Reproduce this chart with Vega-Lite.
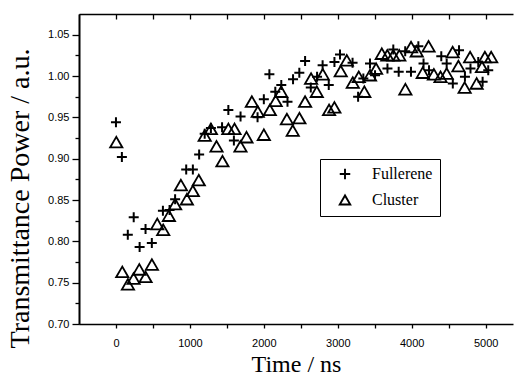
{
  "$schema": "https://vega.github.io/schema/vega-lite/v6.json",
  "width": 434,
  "height": 310,
  "autosize": {"type": "none"},
  "padding": {"left": 79, "top": 14, "right": 1, "bottom": 57},
  "background": "white",
  "config": {
    "view": {"stroke": null},
    "axis": {"grid": false, "domainColor": "black", "domainWidth": 1.6, "tickColor": "black", "tickWidth": 1.3, "labelColor": "black", "titleColor": "black", "labelFont": "Liberation Sans", "labelFontSize": 11, "titleFont": "Liberation Serif", "titleFontWeight": "normal"},
    "legend": {"orient": "none", "legendX": 241, "legendY": 145, "strokeColor": "black", "fillColor": "white", "padding": 7, "symbolOffset": 10, "labelFont": "Liberation Serif", "labelFontSize": 16, "labelColor": "black", "labelOffset": 19, "rowPadding": 7, "symbolSize": 110, "symbolStrokeWidth": 1.9, "symbolStrokeColor": "black", "symbolFillColor": "transparent"}
  },
  "data": {"values": [
    {"t": 0, "v": 0.944, "s": "Fullerene"},
    {"t": 80, "v": 0.902, "s": "Fullerene"},
    {"t": 160, "v": 0.808, "s": "Fullerene"},
    {"t": 240, "v": 0.829, "s": "Fullerene"},
    {"t": 320, "v": 0.793, "s": "Fullerene"},
    {"t": 400, "v": 0.815, "s": "Fullerene"},
    {"t": 485, "v": 0.798, "s": "Fullerene"},
    {"t": 635, "v": 0.837, "s": "Fullerene"},
    {"t": 725, "v": 0.838, "s": "Fullerene"},
    {"t": 800, "v": 0.851, "s": "Fullerene"},
    {"t": 950, "v": 0.887, "s": "Fullerene"},
    {"t": 1040, "v": 0.887, "s": "Fullerene"},
    {"t": 1125, "v": 0.905, "s": "Fullerene"},
    {"t": 1200, "v": 0.930, "s": "Fullerene"},
    {"t": 1284, "v": 0.937, "s": "Fullerene"},
    {"t": 1435, "v": 0.938, "s": "Fullerene"},
    {"t": 1520, "v": 0.959, "s": "Fullerene"},
    {"t": 1595, "v": 0.922, "s": "Fullerene"},
    {"t": 1685, "v": 0.951, "s": "Fullerene"},
    {"t": 1915, "v": 0.950, "s": "Fullerene"},
    {"t": 2000, "v": 0.972, "s": "Fullerene"},
    {"t": 2075, "v": 1.002, "s": "Fullerene"},
    {"t": 2155, "v": 0.981, "s": "Fullerene"},
    {"t": 2236, "v": 0.989, "s": "Fullerene"},
    {"t": 2320, "v": 0.969, "s": "Fullerene"},
    {"t": 2395, "v": 0.996, "s": "Fullerene"},
    {"t": 2480, "v": 1.004, "s": "Fullerene"},
    {"t": 2558, "v": 1.018, "s": "Fullerene"},
    {"t": 2635, "v": 0.986, "s": "Fullerene"},
    {"t": 2720, "v": 0.999, "s": "Fullerene"},
    {"t": 2795, "v": 1.013, "s": "Fullerene"},
    {"t": 2878, "v": 0.989, "s": "Fullerene"},
    {"t": 2955, "v": 1.017, "s": "Fullerene"},
    {"t": 3030, "v": 1.026, "s": "Fullerene"},
    {"t": 3200, "v": 1.016, "s": "Fullerene"},
    {"t": 3275, "v": 0.975, "s": "Fullerene"},
    {"t": 3346, "v": 0.997, "s": "Fullerene"},
    {"t": 3436, "v": 1.015, "s": "Fullerene"},
    {"t": 3504, "v": 1.001, "s": "Fullerene"},
    {"t": 3672, "v": 1.009, "s": "Fullerene"},
    {"t": 3751, "v": 1.032, "s": "Fullerene"},
    {"t": 3824, "v": 1.005, "s": "Fullerene"},
    {"t": 3912, "v": 1.030, "s": "Fullerene"},
    {"t": 3990, "v": 1.005, "s": "Fullerene"},
    {"t": 4090, "v": 1.036, "s": "Fullerene"},
    {"t": 4160, "v": 1.015, "s": "Fullerene"},
    {"t": 4234, "v": 1.007, "s": "Fullerene"},
    {"t": 4400, "v": 1.024, "s": "Fullerene"},
    {"t": 4473, "v": 1.015, "s": "Fullerene"},
    {"t": 4556, "v": 0.991, "s": "Fullerene"},
    {"t": 4640, "v": 1.031, "s": "Fullerene"},
    {"t": 4720, "v": 0.999, "s": "Fullerene"},
    {"t": 4795, "v": 1.009, "s": "Fullerene"},
    {"t": 4900, "v": 1.017, "s": "Fullerene"},
    {"t": 4959, "v": 0.993, "s": "Fullerene"},
    {"t": 5035, "v": 1.007, "s": "Fullerene"},
    {"t": 4, "v": 0.920, "s": "Cluster"},
    {"t": 85, "v": 0.763, "s": "Cluster"},
    {"t": 162, "v": 0.748, "s": "Cluster"},
    {"t": 238, "v": 0.755, "s": "Cluster"},
    {"t": 315, "v": 0.766, "s": "Cluster"},
    {"t": 400, "v": 0.757, "s": "Cluster"},
    {"t": 486, "v": 0.772, "s": "Cluster"},
    {"t": 558, "v": 0.821, "s": "Cluster"},
    {"t": 639, "v": 0.814, "s": "Cluster"},
    {"t": 716, "v": 0.831, "s": "Cluster"},
    {"t": 800, "v": 0.845, "s": "Cluster"},
    {"t": 878, "v": 0.868, "s": "Cluster"},
    {"t": 959, "v": 0.851, "s": "Cluster"},
    {"t": 1040, "v": 0.861, "s": "Cluster"},
    {"t": 1120, "v": 0.874, "s": "Cluster"},
    {"t": 1200, "v": 0.928, "s": "Cluster"},
    {"t": 1284, "v": 0.936, "s": "Cluster"},
    {"t": 1360, "v": 0.915, "s": "Cluster"},
    {"t": 1440, "v": 0.897, "s": "Cluster"},
    {"t": 1520, "v": 0.936, "s": "Cluster"},
    {"t": 1603, "v": 0.936, "s": "Cluster"},
    {"t": 1684, "v": 0.915, "s": "Cluster"},
    {"t": 1765, "v": 0.926, "s": "Cluster"},
    {"t": 1838, "v": 0.969, "s": "Cluster"},
    {"t": 1918, "v": 0.957, "s": "Cluster"},
    {"t": 2000, "v": 0.929, "s": "Cluster"},
    {"t": 2081, "v": 0.959, "s": "Cluster"},
    {"t": 2160, "v": 0.970, "s": "Cluster"},
    {"t": 2234, "v": 0.981, "s": "Cluster"},
    {"t": 2312, "v": 0.948, "s": "Cluster"},
    {"t": 2391, "v": 0.934, "s": "Cluster"},
    {"t": 2481, "v": 0.949, "s": "Cluster"},
    {"t": 2558, "v": 0.969, "s": "Cluster"},
    {"t": 2639, "v": 0.997, "s": "Cluster"},
    {"t": 2716, "v": 0.981, "s": "Cluster"},
    {"t": 2797, "v": 1.002, "s": "Cluster"},
    {"t": 2882, "v": 0.959, "s": "Cluster"},
    {"t": 2954, "v": 0.962, "s": "Cluster"},
    {"t": 3040, "v": 1.006, "s": "Cluster"},
    {"t": 3122, "v": 1.019, "s": "Cluster"},
    {"t": 3203, "v": 0.992, "s": "Cluster"},
    {"t": 3284, "v": 0.999, "s": "Cluster"},
    {"t": 3359, "v": 0.981, "s": "Cluster"},
    {"t": 3436, "v": 1.001, "s": "Cluster"},
    {"t": 3518, "v": 1.009, "s": "Cluster"},
    {"t": 3595, "v": 1.027, "s": "Cluster"},
    {"t": 3670, "v": 1.025, "s": "Cluster"},
    {"t": 3751, "v": 1.025, "s": "Cluster"},
    {"t": 3832, "v": 1.025, "s": "Cluster"},
    {"t": 3914, "v": 0.984, "s": "Cluster"},
    {"t": 3991, "v": 1.035, "s": "Cluster"},
    {"t": 4068, "v": 1.030, "s": "Cluster"},
    {"t": 4149, "v": 1.004, "s": "Cluster"},
    {"t": 4228, "v": 1.036, "s": "Cluster"},
    {"t": 4300, "v": 1.002, "s": "Cluster"},
    {"t": 4390, "v": 0.999, "s": "Cluster"},
    {"t": 4473, "v": 1.003, "s": "Cluster"},
    {"t": 4554, "v": 1.029, "s": "Cluster"},
    {"t": 4632, "v": 1.012, "s": "Cluster"},
    {"t": 4716, "v": 0.986, "s": "Cluster"},
    {"t": 4790, "v": 1.023, "s": "Cluster"},
    {"t": 4878, "v": 0.991, "s": "Cluster"},
    {"t": 4950, "v": 1.011, "s": "Cluster"},
    {"t": 4990, "v": 1.023, "s": "Cluster"},
    {"t": 5075, "v": 1.023, "s": "Cluster"}
  ]},
  "layer": [
    {
      "transform": [{"filter": "datum.s === 'Fullerene'"}],
      "mark": {"type": "point", "filled": false, "color": "black", "opacity": 1, "strokeWidth": 2, "size": 100},
      "encoding": {
        "x": {"field": "t", "type": "quantitative", "scale": {"domain": [-500, 5370], "nice": false, "zero": false},
          "axis": {"orient": "bottom", "values": [0, 500, 1000, 1500, 2000, 2500, 3000, 3500, 4000, 4500, 5000], "format": "d", "labelExpr": "datum.value % 1000 === 0 ? datum.label : ''", "tickSize": 4, "labelPadding": 9, "title": "Time / ns", "titleFontSize": 24, "titleY": 47, "titleBaseline": "alphabetic"}},
        "y": {"field": "v", "type": "quantitative", "scale": {"domain": [0.70, 1.075], "nice": false, "zero": false},
          "axis": {"orient": "left", "values": [0.70, 0.75, 0.80, 0.85, 0.90, 0.95, 1.00, 1.05], "format": ".2f", "tickSize": 7, "labelPadding": 3, "title": "Transmittance Power / a.u.", "titleFontSize": 28, "titleX": -51, "titleY": 184, "titleAlign": "center", "titleBaseline": "alphabetic"}},
        "shape": {"field": "s", "type": "nominal", "title": null, "scale": {"domain": ["Fullerene", "Cluster"], "range": ["M-1,0H1M0,-1V1", "triangle-up"]}}
      }
    },
    {
      "transform": [{"filter": "datum.s === 'Cluster'"}],
      "mark": {"type": "point", "filled": false, "color": "black", "opacity": 1, "strokeWidth": 1.8, "size": 150},
      "encoding": {
        "x": {"field": "t", "type": "quantitative",
          "axis": {"orient": "top", "values": [0, 500, 1000, 1500, 2000, 2500, 3000, 3500, 4000, 4500, 5000], "labels": false, "tickSize": -5, "title": null}},
        "y": {"field": "v", "type": "quantitative",
          "axis": {"orient": "left", "values": [0.725, 0.775, 0.825, 0.875, 0.925, 0.975, 1.025], "labels": false, "tickSize": 4, "title": null}},
        "shape": {"field": "s", "type": "nominal", "title": null, "scale": {"domain": ["Fullerene", "Cluster"], "range": ["M-1,0H1M0,-1V1", "triangle-up"]}}
      }
    }
  ],
  "resolve": {"axis": {"x": "independent", "y": "independent"}}
}
